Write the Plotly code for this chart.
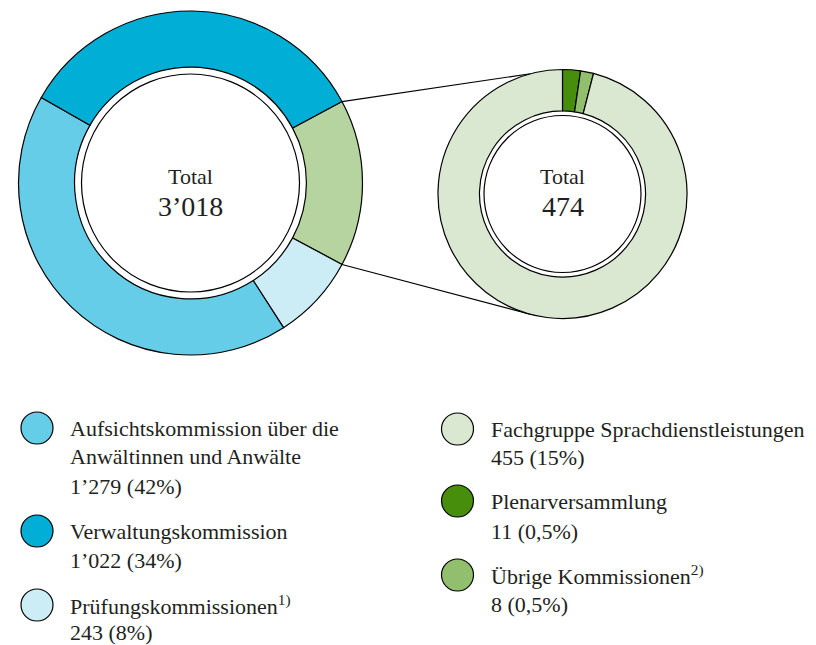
import math
import plotly.graph_objects as go

# Canvas size in pixels (margins are zero, so paper coordinates map 1:1 to pixels)
W, H = 816, 645

# Left ring: overall distribution (clockwise from the green slice)
left_labels = ["Prüfungskommissionen", "Aufsichtskommission über die Anwältinnen und Anwälte",
               "Verwaltungskommission"]
left_values = [243, 1279, 1022]
left_pcts = ["8%", "42%", "34%"]
left_colors = ["#CCECF6", "#66CDE8", "#00AED6"]

# Right ring: breakdown of the green slice
right_labels = ["Plenarversammlung", "Übrige Kommissionen", "Fachgruppe Sprachdienstleistungen"]
right_values = [11, 8, 455]
right_pcts = ["0,5%", "0,5%", "15%"]
right_colors = ["#468E0B", "#92BF6D", "#DBE8D1"]
group_color = "#B5D4A0"

group_total = sum(right_values)
ring_labels = ["Übrige"] + left_labels
ring_values = [group_total] + left_values
ring_colors = [group_color] + left_colors
grand_total = sum(ring_values)

FONT = "Liberation Serif"
TXT = "#231F20"


def fmt(v):
    return f"{v:,}".replace(",", "’")


def px(x):
    return x / W


def py(y):
    return 1 - y / H


# Ring geometry (pixels)
L_CX, L_CY, L_R, L_HOLE = 190.5, 183.0, 172.0, 0.674
R_CX, R_CY, R_R, R_HOLE = 562.5, 194.0, 124.5, 0.667

# Green slice centred on 3 o'clock
group_share = group_total / grand_total
left_rotation = 90 - group_share * 180

fig = go.Figure()

fig.add_trace(go.Pie(
    labels=ring_labels, values=ring_values, sort=False, direction="clockwise",
    rotation=left_rotation, hole=L_HOLE, textinfo="none", hoverinfo="label+value",
    marker=dict(colors=ring_colors, line=dict(color="#000000", width=1.2)),
    domain=dict(x=[px(L_CX - L_R), px(L_CX + L_R)], y=[py(L_CY + L_R), py(L_CY - L_R)]),
    showlegend=False,
))

fig.add_trace(go.Pie(
    labels=right_labels, values=right_values, sort=False, direction="clockwise",
    rotation=0, hole=R_HOLE, textinfo="none", hoverinfo="label+value",
    marker=dict(colors=right_colors, line=dict(color="#000000", width=1.2)),
    domain=dict(x=[px(R_CX - R_R), px(R_CX + R_R)], y=[py(R_CY + R_R), py(R_CY - R_R)]),
    showlegend=False,
))

shapes = []

# Leader lines from the edges of the green slice to the right ring
end_angle = math.radians(15)
for sign in (1, -1):
    a = math.radians(90 - sign * group_share * 180)
    x0 = L_CX + L_R * math.sin(a)
    y0 = L_CY - L_R * math.cos(a)
    x1 = R_CX - R_R * math.sin(end_angle)
    y1 = R_CY - sign * R_R * math.cos(end_angle)
    shapes.append(dict(type="line", xref="paper", yref="paper",
                       x0=px(x0), y0=py(y0), x1=px(x1), y1=py(y1),
                       line=dict(color="#000000", width=1.2), layer="below"))

# Inner outlined discs
for cx, cy, r in ((L_CX, L_CY, 109), (R_CX, R_CY, 78.5)):
    shapes.append(dict(type="circle", xref="paper", yref="paper",
                       x0=px(cx - r), x1=px(cx + r), y0=py(cy + r), y1=py(cy - r),
                       fillcolor="#FFFFFF", line=dict(color="#000000", width=1.2)))

annotations = []


def add_text(x, y, text, size, anchor="left"):
    annotations.append(dict(xref="paper", yref="paper", x=px(x), y=py(y), text=text,
                            showarrow=False, xanchor=anchor, yanchor="middle",
                            font=dict(family=FONT, size=size, color=TXT)))


# Centre totals
add_text(L_CX, 176, "Total", 22, "center")
add_text(L_CX, 206, fmt(grand_total), 28, "center")
add_text(R_CX, 176, "Total", 22, "center")
add_text(R_CX, 206, fmt(group_total), 28, "center")

# Legend
LEG_FS = 22


def legend_item(cx, cy, color, tx, lines, line_step=29):
    shapes.append(dict(type="circle", xref="paper", yref="paper",
                       x0=px(cx - 16), x1=px(cx + 16), y0=py(cy + 16), y1=py(cy - 16),
                       fillcolor=color, line=dict(color="#000000", width=1.2)))
    for i, t in enumerate(lines):
        add_text(tx, cy + i * line_step, t, LEG_FS)


left_items = [
    (1, 428, 29, ["Aufsichtskommission über die", "Anwältinnen und Anwälte"]),
    (2, 531, 29.5, ["Verwaltungskommission"]),
    (0, 605, 27, ["Prüfungskommissionen<sup>1)</sup>"]),
]
for idx, cy, step, name_lines in left_items:
    legend_item(37, cy, left_colors[idx], 68,
                name_lines + [f"{fmt(left_values[idx])} ({left_pcts[idx]})"], step)

right_items = [
    (2, 429, 28.5, ["Fachgruppe Sprachdienstleistungen"]),
    (0, 501, 30, ["Plenarversammlung"]),
    (1, 575, 29, ["Übrige Kommissionen<sup>2)</sup>"]),
]
for idx, cy, step, name_lines in right_items:
    legend_item(457.5, cy, right_colors[idx], 489,
                name_lines + [f"{fmt(right_values[idx])} ({right_pcts[idx]})"], step)

fig.update_layout(
    width=W, height=H, margin=dict(l=0, r=0, t=0, b=0),
    paper_bgcolor="#FFFFFF", plot_bgcolor="#FFFFFF",
    shapes=shapes, annotations=annotations,
)

fig.write_html("out.html")
